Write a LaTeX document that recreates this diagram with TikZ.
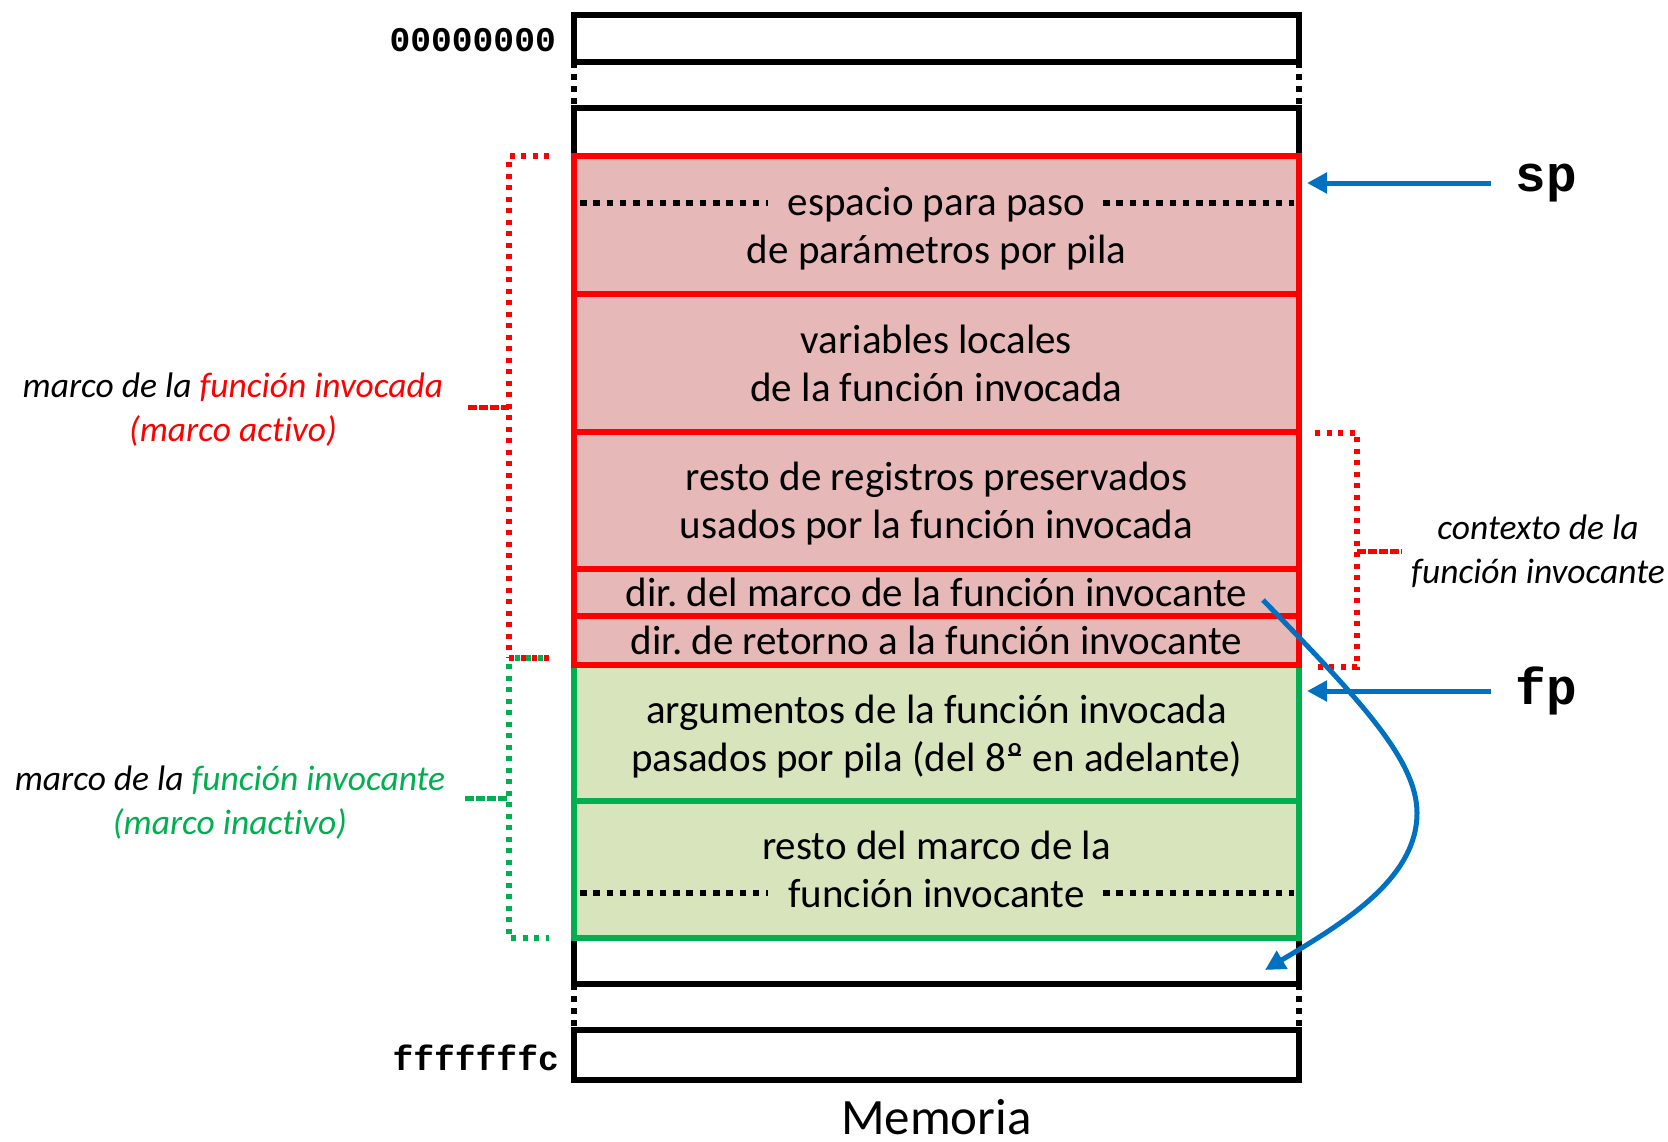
\documentclass[tikz,border=0pt]{standalone}
\usepackage{fontspec}
\setmainfont{Carlito}[Ligatures=NoCommon]
\newfontfamily\monob{Liberation Mono}
\usetikzlibrary{arrows.meta}
\frenchspacing
\definecolor{cred}{HTML}{FF0000}
\definecolor{cpink}{HTML}{E6B8B7}
\definecolor{cgreen}{HTML}{00B050}
\definecolor{cgfill}{HTML}{D8E4BC}
\definecolor{cblue}{HTML}{0070C0}
\newcommand\mainsz{\fontsize{41}{48}\selectfont}
\newcommand\sidesz{\fontsize{35.5}{44}\selectfont}
\newcommand\memsz{\fontsize{51}{60}\selectfont}
\newcommand\addrsz{\fontsize{34.6}{40}\selectfont}
\newcommand\regsz{\fontsize{51}{60}\selectfont}
\newcommand\tl[1]{\vphantom{l}\smash{#1}}
\newcommand\ordm{\leavevmode\setbox0\hbox{º}\rlap{\kern0.12\wd0\rule[0.36em]{0.76\wd0}{0.06em}}\box0}
\begin{document}
\begin{tikzpicture}[x=1pt,y=-1pt,
  frame/.style={draw=black, line width=5.5pt},
  framedash/.style={draw=black, line width=5.5pt, dash pattern=on 6pt off 6pt},
  cellbox/.style={draw=black, line width=5.5pt, minimum width=725pt, inner sep=0pt},
  redrow/.style={draw=cred, fill=cpink, line width=5.5pt, minimum width=725pt, inner sep=0pt, align=center, font=\mainsz},
  greenrow/.style={draw=cgreen, fill=cgfill, line width=5.5pt, minimum width=725pt, inner sep=0pt, align=center, font=\mainsz},
  dots/.style={draw=black, line width=6pt, dash pattern=on 6.5pt off 6.8pt},
  rdot/.style={draw=cred, line width=5.5pt, dash pattern=on 5pt off 6.5pt},
  gdot/.style={draw=cgreen, line width=5.5pt, dash pattern=on 5pt off 6.5pt},
  rtick/.style={draw=cred, line width=5pt, dash pattern=on 9pt off 2pt},
  gtick/.style={draw=cgreen, line width=5pt, dash pattern=on 9pt off 2pt},
  sidelbl/.style={align=center, font=\sidesz\itshape, inner sep=0pt},
  addr/.style={font=\addrsz\monob\bfseries, inner sep=0pt, anchor=east},
  reg/.style={font=\regsz\monob\bfseries, inner xsep=24pt, inner ysep=0pt},
  barrow/.style={draw=cblue, line width=5pt, -{Triangle[length=20pt,width=20pt]}}
]
\useasboundingbox (0,0) rectangle (1668,1141);

% black frame
\node[cellbox, minimum height=47pt] (m0) at (936.5,38.5) {};
\node[cellbox, minimum height=50pt] (mN) at (936.5,1055) {};
\draw[framedash] (574,62) -- (574,108);
\draw[framedash] (1299,62) -- (1299,108);
\draw[framedash] (574,984) -- (574,1030);
\draw[framedash] (1299,984) -- (1299,1030);
\draw[frame] (574,156) |- (1299,108) -- (1299,156);
\draw[frame] (574,938) |- (1299,984) -- (1299,938);

% green rows
\node[greenrow, minimum height=136pt] (g1) at (936.5,733) {\tl{argumentos de la función invocada}\\\tl{pasados por pila (del 8\ordm{} en adelante)}};
\node[greenrow, minimum height=137pt] (g2) at (936.5,869.5) {\tl{resto del marco de la}\\\tl{función invocante}};
% red rows
\node[redrow, minimum height=138pt] (r1) at (936.5,225) {\tl{espacio para paso}\\\tl{de parámetros por pila}};
\node[redrow, minimum height=138pt] (r2) at (936.5,363) {\tl{variables locales}\\\tl{de la función invocada}};
\node[redrow, minimum height=137pt] (r3) at (936.5,500.5) {\tl{resto de registros preservados}\\\tl{usados por la función invocada}};
\node[redrow, minimum height=47pt] (r4) at (936.5,592.5) {\tl{dir. del marco de la función invocante}};
\node[redrow, minimum height=49pt] (r5) at (936.5,640.5) {\tl{dir. de retorno a la función invocante}};

% dotted continuation lines
\draw[dots] (580,203) -- (768,203);
\draw[dots] (1103,203) -- (1294,203);
\draw[dots] (580,893) -- (768,893);
\draw[dots] (1103,893) -- (1294,893);

% addresses
\node[addr] (a0) at (556,40) {00000000};
\node[addr] (aN) at (559,1058) {fffffffc};
\node[font=\memsz, inner sep=0pt] (mem) at (936.5,1117) {Memoria};

% brackets
\draw[rdot] (549,156) -- (509,156) -- (509,658);
\draw[rdot] (509,658) -- (549,658);
\draw[gdot, dash phase=5.75pt] (509,658) -- (549,658);
\draw[gdot] (509,664) -- (509,938) -- (549,938);
\draw[rtick] (468,407) -- (509,407);
\draw[gtick] (465,798) -- (509,798);
\draw[rdot] (1315,433) -- (1357,433) -- (1357,667) -- (1315,667);
\draw[rtick] (1357,551) -- (1402,551);

% labels
\node[sidelbl] (lblA) at (233,409.5) {marco de la \textcolor{cred}{función invocada}\\\textcolor{cred}{(marco activo)}};
\node[sidelbl] (lblB) at (230,802.5) {marco de la \textcolor{cgreen}{función invocante}\\\textcolor{cgreen}{(marco inactivo)}};
\node[sidelbl] (lblC) at (1538,551) {contexto de la\\función invocante};

% registers
\node[reg] (sp) at (1546,183) {sp};
\node[reg] (fp) at (1546,691) {fp};
\coordinate (spT) at (1307,183);
\coordinate (fpT) at (1307,691);
\draw[barrow] (sp.west) -- (sp.west -| spT);
\draw[barrow] (fp.west) -- (fp.west -| fpT);

% curved arrow
\coordinate (cS) at (1263,600);
\coordinate (cE) at (1265,970);
\draw[barrow] (cS) .. controls (1360,700) and (1417,760) .. (1417,813) .. controls (1417,880) and (1340,925) .. (cE);
\end{tikzpicture}
\end{document}
